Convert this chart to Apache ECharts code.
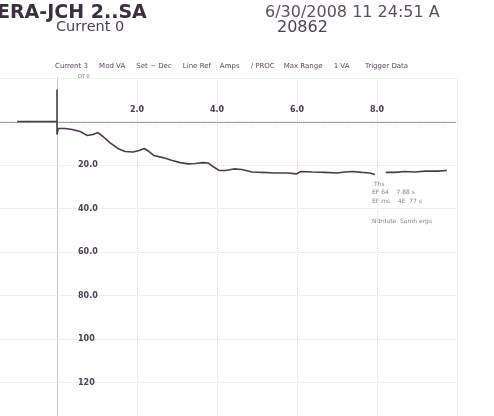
<!DOCTYPE html>
<html>
<head>
<meta charset="utf-8">
<script src="https://cdn.jsdelivr.net/npm/echarts@6/dist/echarts.min.js"></script>
<style>
  html, body { margin: 0; padding: 0; background: #ffffff; }
  #chart { width: 494px; height: 416px; }
</style>
</head>
<body>
<div id="chart"></div>
<script>
// Recorded current trace: time (s) and current value
const traceTime = [-1.0, 0, 0, 0, 0.03, 0.2, 0.38, 0.58, 0.75, 0.9, 1.02, 1.15, 1.32, 1.52, 1.7, 1.9, 2.05, 2.18, 2.3, 2.42, 2.65, 2.88, 3.08, 3.28, 3.45, 3.65, 3.78, 3.9, 4.05, 4.22, 4.42, 4.62, 4.88, 5.12, 5.45, 5.78, 5.98, 6.1, 6.38, 6.7, 7.0, 7.2, 7.38, 7.62, 7.82, 7.95, 8.08, 8.22, 8.45, 8.7, 8.95, 9.2, 9.5, 9.75];
const traceValue = [0, 0, -14.7, 6.0, 3.2, 3.2, 3.7, 4.6, 6.4, 6.0, 5.1, 6.9, 9.7, 12.4, 13.8, 14.0, 13.3, 12.4, 13.8, 15.6, 16.6, 17.9, 18.9, 19.5, 19.3, 18.9, 19.1, 20.7, 22.5, 22.5, 21.8, 22.1, 23.2, 23.4, 23.7, 23.7, 24.1, 23.0, 23.2, 23.4, 23.7, 23.2, 23.0, 23.4, 23.7, 24.4, null, 23.4, 23.4, 23.0, 23.2, 22.8, 22.8, 22.5];

// Header texts
const unitName = 'ERA-JCH 2..SA';
const stampText = '6/30/2008 11 24:51 A';
const currentText = 'Current 0';
const serialText = '20862';
const infoLine = 'Current 3     Mod VA     Set ~ Dec     Line Ref    Amps     / PROC    Max Range     1 VA       Trigger Data';
const infoSub = 'DT 0';
const noteLines = ['.Ths', 'EF 64    7.88 s', 'EF ms    4E  77 s'];
const noteFooter = 'Ndrdate  Samh ergs';

const ink = '#3c3040';

const chart = echarts.init(document.getElementById('chart'));

chart.setOption({
  backgroundColor: '#ffffff',
  animation: false,
  grid: { left: -23, top: 78, width: 480, height: 348, containLabel: false, outerBoundsMode: 'none' },
  xAxis: {
    type: 'value',
    position: 'top',
    offset: -44,
    min: -2, max: 10, interval: 2,
    axisLine: { show: true, onZero: false, lineStyle: { color: '#9a90a0', type: 'dotted', width: 1.2 } },
    axisTick: { show: false },
    axisLabel: {
      margin: 8, fontSize: 8, fontWeight: 'bold', color: '#4a4050', fontFamily: 'DejaVu Sans',
      formatter: v => (v > 0 && v < 10 ? v.toFixed(1) : '')
    },
    splitLine: { show: true, lineStyle: { color: '#e4e0e6', type: 'dotted', width: 1 } }
  },
  yAxis: {
    type: 'value',
    inverse: true,
    position: 'left',
    offset: -80,
    min: -20, max: 140, interval: 20,
    axisLine: { show: true, onZero: false, lineStyle: { color: '#c8c2ca', type: 'dotted', width: 1 } },
    axisTick: { show: false },
    axisLabel: {
      inside: true, margin: 21, fontSize: 8, fontWeight: 'bold', color: '#4a4050', fontFamily: 'DejaVu Sans',
      formatter: v => (v <= 0 ? '' : (v >= 100 ? String(v) : v.toFixed(1)))
    },
    splitLine: { show: true, lineStyle: { color: '#e6e2e8', type: 'dotted', width: 1 } }
  },
  series: [{
    type: 'line',
    data: traceTime.map((t, i) => [t, traceValue[i]]),
    showSymbol: false,
    connectNulls: false,
    lineStyle: { color: '#4a3c4c', width: 1.6 },
    z: 5
  }],
  graphic: [
    { type: 'text', left: -3, top: 4, style: { text: unitName, font: 'bold 19px "DejaVu Sans"', fill: ink } },
    { type: 'text', left: 265, top: 5, style: { text: stampText, font: '16px "DejaVu Sans"', fill: '#5a5060' } },
    { type: 'text', left: 56, top: 20, style: { text: currentText, font: '14.5px "DejaVu Sans"', fill: '#4a4250' } },
    { type: 'text', left: 277, top: 20, style: { text: serialText, font: '16px "DejaVu Sans"', fill: '#4a4250' } },
    { type: 'text', left: 55, top: 63, style: { text: infoLine, font: '7px "DejaVu Sans"', fill: '#5a4a60' } },
    { type: 'text', left: 78, top: 74, style: { text: infoSub, font: '5px "DejaVu Sans"', fill: '#7a6c80' } },
    { type: 'text', left: 372, top: 180, style: { text: noteLines.join('\n'), font: '6px "DejaVu Sans"', lineHeight: 8.5, fill: '#8a8090' } },
    { type: 'text', left: 372, top: 218, style: { text: noteFooter, font: '6px "DejaVu Sans"', fill: '#8a8090' } }
  ]
});
</script>
</body>
</html>
